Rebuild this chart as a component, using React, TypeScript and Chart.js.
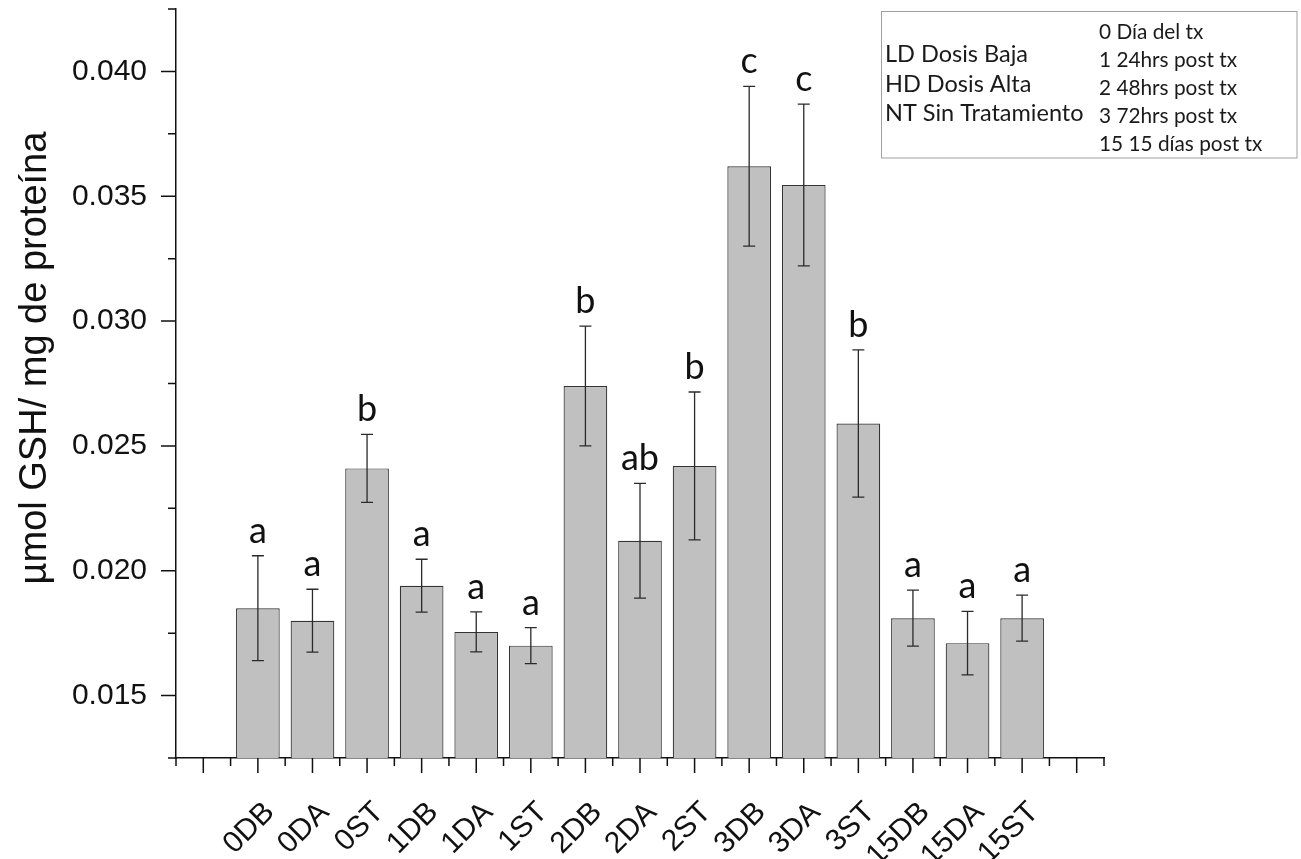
import React, { useEffect, useRef } from 'react';
import { Chart, registerables } from 'chart.js';

Chart.register(...registerables);

// Groups: day + treatment (DB = dosis baja, DA = dosis alta, ST = sin tratamiento)
const categories = ['0DB', '0DA', '0ST', '1DB', '1DA', '1ST', '2DB', '2DA', '2ST', '3DB', '3DA', '3ST', '15DB', '15DA', '15ST'];
const means = [0.0185, 0.0180, 0.0241, 0.0194, 0.01755, 0.0170, 0.0274, 0.0212, 0.0242, 0.0362, 0.03545, 0.0259, 0.0181, 0.0171, 0.0181];
const errors = [0.0021, 0.00126, 0.00136, 0.00106, 0.0008, 0.00072, 0.0024, 0.0023, 0.00296, 0.0032, 0.00324, 0.00295, 0.00112, 0.00127, 0.00092];
const groupLetters = ['a', 'a', 'b', 'a', 'a', 'a', 'b', 'ab', 'b', 'c', 'c', 'b', 'a', 'a', 'a'];

const yTitle = 'µmol GSH/ mg de proteína';
const legendLeft = ['LD Dosis Baja', 'HD Dosis Alta', 'NT Sin Tratamiento'];
const legendRight = ['0 Día del tx', '1 24hrs post tx', '2 48hrs post tx', '3 72hrs post tx', '15 15 días post tx'];

const yMin = 0.0125;
const yMax = 0.0425;
const yStep = 0.0025;
const yMajorStep = 0.005;

const isMajor = (v: number) => Math.abs(v / yMajorStep - Math.round(v / yMajorStep)) < 1e-6;

const overlay = {
  id: 'overlay',
  afterDatasetsDraw(chart: any) {
    const ctx = chart.ctx;
    const x = chart.scales.x;
    const y = chart.scales.y;
    ctx.save();
    ctx.strokeStyle = '#2a2a2a';
    ctx.lineWidth = 1.3;
    ctx.fillStyle = '#111';
    ctx.font = '36px Lato';
    ctx.textAlign = 'center';
    ctx.textBaseline = 'alphabetic';
    means.forEach((m, i) => {
      const px = x.getPixelForValue(i + 1);
      const top = y.getPixelForValue(m + errors[i]);
      const bot = y.getPixelForValue(m - errors[i]);
      ctx.beginPath();
      ctx.moveTo(px, top);
      ctx.lineTo(px, bot);
      ctx.moveTo(px - 6, top);
      ctx.lineTo(px + 6, top);
      ctx.moveTo(px - 6, bot);
      ctx.lineTo(px + 6, bot);
      ctx.stroke();
      ctx.fillText(groupLetters[i], px, top - 13);
    });
    ctx.restore();
  },
  afterDraw(chart: any) {
    const ctx = chart.ctx;
    const x = chart.scales.x;
    const y = chart.scales.y;
    const area = chart.chartArea;
    ctx.save();
    ctx.strokeStyle = '#111';
    ctx.lineWidth = 1.5;

    // x-axis tick marks: long at slot centres, short at slot edges
    const n = x.getLabels().length;
    const half = (x.getPixelForValue(1) - x.getPixelForValue(0)) / 2;
    ctx.beginPath();
    for (let i = 0; i < n; i++) {
      const p = x.getPixelForValue(i);
      ctx.moveTo(p, area.bottom);
      ctx.lineTo(p, area.bottom + 15);
      ctx.moveTo(p - half, area.bottom);
      ctx.lineTo(p - half, area.bottom + 8);
    }
    const last = x.getPixelForValue(n - 1) + half;
    ctx.moveTo(last, area.bottom);
    ctx.lineTo(last, area.bottom + 8);

    // y-axis tick marks
    y.ticks.forEach((t: any) => {
      const p = y.getPixelForValue(t.value);
      ctx.moveTo(area.left, p);
      ctx.lineTo(area.left - (isMajor(t.value) ? 15 : 8), p);
    });
    ctx.stroke();

    // y-axis title
    ctx.save();
    ctx.translate(36, 358);
    ctx.rotate(-Math.PI / 2);
    ctx.fillStyle = '#111';
    ctx.font = '38px "Liberation Sans"';
    ctx.textAlign = 'center';
    ctx.textBaseline = 'middle';
    ctx.fillText(yTitle, 0, 0);
    ctx.restore();

    // abbreviation key
    ctx.strokeStyle = '#a0a0a0';
    ctx.lineWidth = 1;
    ctx.strokeRect(881.5, 11.5, 415.5, 146.5);
    ctx.fillStyle = '#1a1a1a';
    ctx.textAlign = 'left';
    ctx.textBaseline = 'alphabetic';
    ctx.font = '23.5px Lato';
    legendLeft.forEach((t, i) => ctx.fillText(t, 885, 62 + i * 29.5));
    ctx.font = '20.8px Lato';
    legendRight.forEach((t, i) => ctx.fillText(t, 1099, 39 + i * 28));
    ctx.restore();
  },
};

export default function App() {
  const canvasRef = useRef<HTMLCanvasElement | null>(null);

  useEffect(() => {
    if (!canvasRef.current) return;
    const labels = ['', ...categories, ''];
    const data = [null, ...means, null];
    const chart = new Chart(canvasRef.current, {
      type: 'bar',
      data: {
        labels,
        datasets: [
          {
            data,
            backgroundColor: '#c0c0c0',
            borderColor: '#333',
            borderWidth: 1.2,
            barPercentage: 0.8,
            categoryPercentage: 1,
          },
        ],
      },
      options: {
        animation: false,
        responsive: true,
        maintainAspectRatio: false,
        layout: { padding: { left: 0, top: 9, right: 197, bottom: 0 } },
        plugins: { legend: { display: false }, tooltip: { enabled: false } },
        scales: {
          x: {
            type: 'category',
            offset: true,
            grid: { display: true, drawOnChartArea: false, color: 'transparent', tickLength: 15 },
            border: { display: true, color: '#111', width: 1.5 },
            ticks: {
              autoSkip: false,
              maxRotation: 45,
              minRotation: 45,
              padding: 22,
              labelOffset: 12,
              color: '#111',
              font: { family: '"Liberation Sans"', size: 30 },
            },
            afterFit: (s: any) => {
              s.height = 101;
              s.paddingLeft = 0;
              s.paddingRight = 0;
            },
          },
          y: {
            min: yMin,
            max: yMax,
            grid: { display: true, drawOnChartArea: false, color: 'transparent', tickLength: 15 },
            border: { display: true, color: '#111', width: 1.5 },
            ticks: {
              stepSize: yStep,
              autoSkip: false,
              padding: 14,
              color: '#111',
              font: { family: '"Liberation Sans"', size: 30 },
              callback: (v: any) => (isMajor(Number(v)) && Number(v) > 0.0126 && Number(v) < 0.0424 ? Number(v).toFixed(3) : ''),
            },
            afterFit: (s: any) => {
              s.width = 176;
              s.paddingTop = 0;
              s.paddingBottom = 0;
            },
          },
        },
      },
      plugins: [overlay],
    });
    return () => chart.destroy();
  }, []);

  return (
    <div style={{ position: 'fixed', left: 0, top: 0, width: 1301, height: 859, background: '#fff' }}>
      <canvas ref={canvasRef} />
    </div>
  );
}
